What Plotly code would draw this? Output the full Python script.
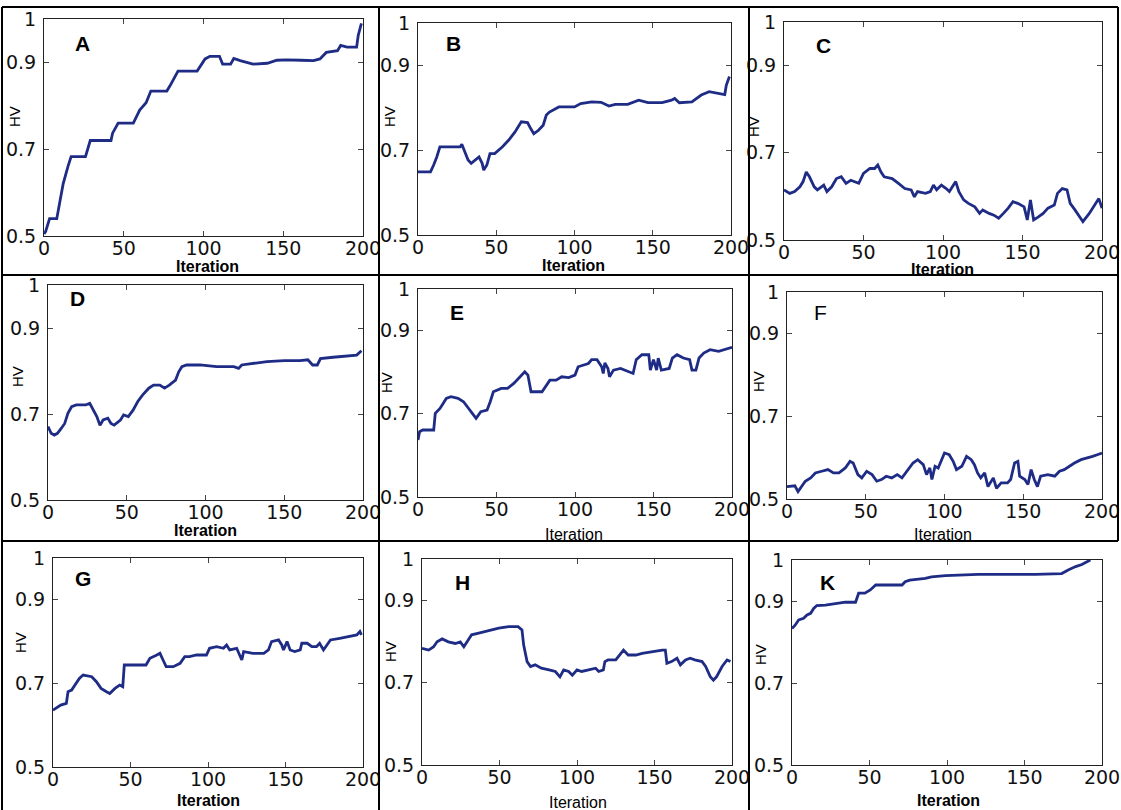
import plotly.graph_objects as go

# ---------------- data ----------------
A_iter = [0, 1, 3.5, 8, 10, 12, 15, 17, 26, 29, 42, 43, 46.5, 56, 60, 64, 67, 77, 79, 81,
          84, 96, 98, 101, 104, 110, 112, 117, 119, 123, 131, 140, 146, 152, 161, 169, 173, 177, 184, 186,
          190, 196, 197, 199]
A_hv = [0.505, 0.51, 0.54, 0.54, 0.58, 0.62, 0.66, 0.683, 0.683, 0.72, 0.72, 0.737, 0.76, 0.76, 0.79, 0.807, 0.834, 0.834, 0.846, 0.86,
        0.88, 0.88, 0.892, 0.908, 0.914, 0.914, 0.896, 0.896, 0.909, 0.904, 0.896, 0.898, 0.905, 0.906, 0.905, 0.904, 0.908, 0.923, 0.927, 0.939,
        0.935, 0.935, 0.962, 0.99]

B_iter = [0, 8, 10, 12, 14, 27, 28, 30, 32, 34, 39, 41, 42, 44, 46, 49, 54, 58, 62, 66,
          70, 72, 74, 77, 80, 82, 84, 90, 100, 104, 111, 117, 122, 126, 134, 141, 147, 156, 162, 164,
          167, 175, 181, 186, 194, 196, 197, 199]
B_hv = [0.649, 0.649, 0.665, 0.684, 0.708, 0.708, 0.714, 0.696, 0.677, 0.669, 0.684, 0.669, 0.653, 0.665, 0.692, 0.692, 0.708, 0.724, 0.743, 0.767,
        0.765, 0.751, 0.739, 0.747, 0.759, 0.783, 0.790, 0.802, 0.802, 0.810, 0.814, 0.813, 0.804, 0.808, 0.808, 0.818, 0.812, 0.812, 0.818, 0.822,
        0.812, 0.814, 0.830, 0.838, 0.831, 0.831, 0.853, 0.874]

C_iter = [0, 3.6, 6.7, 10, 12, 14, 16, 19, 21, 25, 27, 30, 33, 36, 39, 42, 47, 50, 54, 57,
          59, 61, 63, 68, 72, 76, 80, 82, 84, 89, 92, 94, 96, 99, 102, 104, 108, 110, 113, 116,
          120, 123, 125, 129, 132, 135, 138, 141, 144, 147, 151, 153, 155, 157, 160, 163, 166, 170, 172, 175,
          178, 180, 183, 186, 188, 192, 196, 198, 200]
C_hv = [0.615, 0.607, 0.611, 0.622, 0.634, 0.656, 0.645, 0.622, 0.615, 0.626, 0.611, 0.622, 0.641, 0.645, 0.630, 0.637, 0.630, 0.653, 0.664, 0.664,
        0.672, 0.656, 0.645, 0.641, 0.630, 0.618, 0.615, 0.599, 0.611, 0.607, 0.611, 0.626, 0.615, 0.626, 0.618, 0.611, 0.634, 0.611, 0.592, 0.584,
        0.576, 0.561, 0.569, 0.561, 0.557, 0.550, 0.561, 0.573, 0.588, 0.584, 0.576, 0.546, 0.592, 0.546, 0.553, 0.561, 0.573, 0.580, 0.607, 0.618,
        0.615, 0.584, 0.569, 0.553, 0.542, 0.561, 0.584, 0.595, 0.573]

D_iter = [0, 2, 4, 6, 8.5, 10.6, 12.7, 15, 18, 24, 26.5, 28.6, 31, 33, 35, 38, 40, 42, 46, 48,
          51, 54, 57, 60, 64, 67, 71, 74, 77, 81, 83, 85, 88, 96.5, 107, 118, 121, 123, 130, 139,
          150, 160, 165, 168, 171, 173, 181, 190, 196, 199]
D_hv = [0.671, 0.655, 0.651, 0.655, 0.667, 0.678, 0.702, 0.717, 0.721, 0.721, 0.725, 0.709, 0.694, 0.674, 0.686, 0.690, 0.678, 0.674, 0.686, 0.698,
        0.694, 0.709, 0.729, 0.744, 0.760, 0.767, 0.767, 0.760, 0.767, 0.779, 0.798, 0.810, 0.814, 0.814, 0.810, 0.810, 0.806, 0.814, 0.818, 0.822,
        0.824, 0.824, 0.826, 0.814, 0.814, 0.829, 0.832, 0.835, 0.837, 0.847]

E_iter = [0, 1, 3, 10, 11, 14, 16, 18, 21, 25.5, 29, 32, 35, 37, 40, 44, 46, 48, 53, 57,
          61, 63, 66, 68, 70, 72, 79, 82, 84, 88, 91.5, 96, 100, 102, 105, 108.5, 110.6, 114, 117, 118,
          119, 121, 122, 124.5, 129, 134, 137, 139, 142.6, 147, 148, 150, 152, 153, 155, 160, 162, 165, 169, 173,
          174.5, 177, 179, 182, 186, 191.5, 195, 198, 200]
E_hv = [0.637, 0.657, 0.661, 0.661, 0.701, 0.713, 0.725, 0.737, 0.741, 0.737, 0.729, 0.713, 0.697, 0.689, 0.705, 0.709, 0.729, 0.753, 0.761, 0.761,
        0.773, 0.781, 0.793, 0.801, 0.793, 0.753, 0.753, 0.769, 0.781, 0.781, 0.789, 0.787, 0.793, 0.813, 0.817, 0.821, 0.830, 0.830, 0.813, 0.797,
        0.822, 0.809, 0.789, 0.805, 0.809, 0.801, 0.797, 0.830, 0.842, 0.842, 0.805, 0.830, 0.805, 0.834, 0.805, 0.809, 0.834, 0.842, 0.834, 0.830,
        0.805, 0.805, 0.834, 0.846, 0.854, 0.850, 0.854, 0.858, 0.860]

F_iter = [0, 5, 7, 9.5, 11.6, 15, 18, 22, 26, 29.5, 33, 37, 40, 42, 45, 47.5, 50.6, 54, 57, 60,
          63, 66.5, 70, 73, 77, 80, 83, 86.5, 88.6, 90.7, 92, 94, 96, 98, 100, 103, 105.5, 107.6, 111, 114,
          117, 119, 121, 123, 125.5, 127.6, 131, 133, 136, 140, 142, 144.5, 146.6, 147.7, 151, 153, 155, 157, 159, 161,
          165.6, 170, 173, 176, 179, 182.5, 186.7, 191, 194, 197, 200]
F_hv = [0.530, 0.532, 0.518, 0.530, 0.543, 0.551, 0.563, 0.567, 0.571, 0.563, 0.563, 0.575, 0.591, 0.587, 0.559, 0.551, 0.567, 0.559, 0.543, 0.547,
        0.555, 0.551, 0.559, 0.551, 0.571, 0.587, 0.595, 0.583, 0.559, 0.575, 0.547, 0.579, 0.575, 0.595, 0.611, 0.607, 0.591, 0.571, 0.579, 0.603,
        0.595, 0.583, 0.563, 0.551, 0.563, 0.530, 0.551, 0.526, 0.539, 0.539, 0.547, 0.587, 0.591, 0.555, 0.547, 0.535, 0.571, 0.547, 0.530, 0.555,
        0.559, 0.555, 0.567, 0.571, 0.579, 0.587, 0.595, 0.599, 0.603, 0.607, 0.611]

G_iter = [0, 2, 5, 8.6, 9.7, 12, 14, 17, 19.4, 25, 28, 31, 34.5, 36.6, 40, 43, 45, 46, 60, 62.5,
          67, 69, 71, 73, 77.6, 82, 85, 88, 92.7, 99, 101, 105.6, 110, 112, 114, 118.5, 121.8, 123, 129, 136,
          139, 141, 145.5, 147.6, 148.7, 151, 153, 156, 159.5, 160.5, 164, 167, 170, 172, 174.5, 176.7, 179, 185, 192, 196,
          198, 199]
G_hv = [0.636, 0.640, 0.648, 0.652, 0.680, 0.684, 0.696, 0.712, 0.720, 0.716, 0.704, 0.688, 0.680, 0.676, 0.688, 0.696, 0.692, 0.744, 0.744, 0.760,
        0.768, 0.772, 0.756, 0.740, 0.740, 0.748, 0.764, 0.764, 0.768, 0.768, 0.784, 0.788, 0.784, 0.792, 0.780, 0.784, 0.756, 0.776, 0.772, 0.772,
        0.780, 0.800, 0.804, 0.792, 0.780, 0.800, 0.780, 0.776, 0.780, 0.796, 0.796, 0.788, 0.788, 0.796, 0.780, 0.792, 0.804, 0.808, 0.812, 0.816,
        0.824, 0.816]

H_iter = [0, 4.3, 7.5, 9.7, 13, 17, 21.5, 24.7, 27, 29, 32, 36.6, 41, 44, 49.5, 56, 62, 64.5, 65.6, 67.8,
          70, 73, 77, 82, 86, 89, 91.4, 94.6, 97, 100, 103, 107.5, 112, 114, 117, 118, 120, 125, 128, 130,
          133, 138, 142, 148, 155, 157, 158, 161, 164.5, 166.7, 170, 173, 176, 180.7, 183, 186, 188, 190, 193.6, 196.8,
          199]
H_hv = [0.783, 0.779, 0.787, 0.799, 0.806, 0.799, 0.795, 0.799, 0.787, 0.799, 0.816, 0.820, 0.824, 0.828, 0.832, 0.836, 0.836, 0.828, 0.791, 0.751,
        0.739, 0.743, 0.735, 0.731, 0.727, 0.714, 0.731, 0.727, 0.718, 0.731, 0.727, 0.731, 0.735, 0.727, 0.731, 0.751, 0.755, 0.755, 0.771, 0.779,
        0.767, 0.767, 0.771, 0.775, 0.779, 0.779, 0.747, 0.751, 0.759, 0.743, 0.755, 0.759, 0.755, 0.751, 0.739, 0.714, 0.706, 0.714, 0.739, 0.755,
        0.751]

K_iter = [0, 2, 4.3, 7.5, 9.7, 12, 14, 16, 21.5, 28, 34.4, 41, 43, 47, 50.5, 54, 71, 73, 76, 86,
          90, 99, 110, 120, 157, 174, 178.5, 183, 187, 190, 192.5]
K_hv = [0.833, 0.841, 0.854, 0.858, 0.866, 0.870, 0.882, 0.889, 0.890, 0.894, 0.897, 0.897, 0.919, 0.919, 0.927, 0.939, 0.939, 0.947, 0.951, 0.955,
        0.959, 0.962, 0.963, 0.965, 0.965, 0.967, 0.976, 0.984, 0.989, 0.996, 1.0]

panel_letters = ["A", "B", "C", "D", "E", "F", "G", "H", "K"]
x_ticks = [0, 50, 100, 150, 200]
y_ticks = [0.5, 0.7, 0.9, 1]
y_ticktext = ["0.5", "0.7", "0.9", "1"]
x_title = "Iteration"
y_title = "HV"

series = [(A_iter, A_hv), (B_iter, B_hv), (C_iter, C_hv),
          (D_iter, D_hv), (E_iter, E_hv), (F_iter, F_hv),
          (G_iter, G_hv), (H_iter, H_hv), (K_iter, K_hv)]

# ---------------- layout (pixel geometry) ----------------
W, H = 1121, 810
# plot-area boxes: left, right, top, bottom (px)
boxes = [(44, 363, 19, 236), (418, 731, 23, 235), (784, 1102, 22, 240),
         (48, 363, 285, 500), (418, 732, 289, 497), (787, 1102, 292, 499),
         (53, 363, 558, 767), (422, 732, 559, 765), (792, 1102, 560, 765)]
letter_pos = [(82, 43), (453, 43), (823, 45), (78, 298), (457, 312), (820, 312),
              (83, 578), (462, 582), (827, 582)]
letter_bold = [True, True, True, True, True, False, True, True, True]
hv_pos = [(15, 117), (390, 117), (754, 127), (17, 377), (387, 383), (758, 382),
          (20, 643), (390, 652), (760, 655)]
it_pos = [(207, 266), (573, 265), (942, 270), (205, 530), (574, 534), (943, 534),
          (208, 800), (578, 802), (948, 800)]
it_bold = [True, True, True, True, False, False, True, False, True]

LINE_COLOR = "#1f2c86"
TICK_FONT = dict(family="DejaVu Sans", size=19, color="#111111")


def px(x):
    return x / W


def py(y):
    return 1 - y / H


fig = go.Figure()
layout = dict(width=W, height=H, margin=dict(l=0, r=0, t=0, b=0, autoexpand=False),
              paper_bgcolor="white", plot_bgcolor="white", showlegend=False)
annotations = []

for i, ((xs, ys), (l, r, t, b)) in enumerate(zip(series, boxes)):
    n = "" if i == 0 else str(i + 1)
    fig.add_trace(go.Scatter(x=xs, y=ys, mode="lines",
                             line=dict(color=LINE_COLOR, width=2.8),
                             xaxis="x" + n, yaxis="y" + n, hoverinfo="skip"))
    layout["xaxis" + n] = dict(domain=[px(l), px(r)], range=[0, 200], anchor="y" + n,
                               tickvals=x_ticks, ticks="inside", ticklen=5, tickcolor="#444",
                               showline=True, linecolor="#222", linewidth=1, mirror="ticks",
                               showgrid=False, zeroline=False, tickfont=TICK_FONT,
                               ticklabelstandoff=-5, ticklabeloverflow="allow",
                               automargin=False)
    layout["yaxis" + n] = dict(domain=[py(b), py(t)], range=[0.5, 1], anchor="x" + n,
                               tickvals=y_ticks, ticktext=y_ticktext, ticks="inside", ticklen=5,
                               tickcolor="#444", showline=True, linecolor="#222", linewidth=1,
                               mirror="ticks", showgrid=False, zeroline=False, tickfont=TICK_FONT,
                               ticklabelstandoff=3, ticklabeloverflow="allow", automargin=False)
    lx, ly = letter_pos[i]
    lt = panel_letters[i]
    annotations.append(dict(x=px(lx), y=py(ly), xref="paper", yref="paper", showarrow=False,
                            text=f"<b>{lt}</b>" if letter_bold[i] else lt,
                            font=dict(family="Liberation Sans", size=21, color="black"),
                            xanchor="center", yanchor="middle"))
    hx, hy = hv_pos[i]
    annotations.append(dict(x=px(hx), y=py(hy), xref="paper", yref="paper", showarrow=False,
                            text=y_title, textangle=-90,
                            font=dict(family="Liberation Sans", size=15, color="black"),
                            xanchor="center", yanchor="middle"))
    ix, iy = it_pos[i]
    annotations.append(dict(x=px(ix), y=py(iy), xref="paper", yref="paper", showarrow=False,
                            text=f"<b>{x_title}</b>" if it_bold[i] else x_title,
                            font=dict(family="Liberation Sans", size=16, color="black"),
                            xanchor="center", yanchor="middle"))

layout["annotations"] = annotations

# outer panel frames
frame_lines = [((2, 7), (1118, 7)), ((2, 275), (1118, 275)), ((2, 541), (1118, 541)),
               ((2, 7), (2, 810)), ((379, 7), (379, 810)), ((749, 7), (749, 810)),
               ((1118, 7), (1118, 541))]
layout["shapes"] = [dict(type="line", xref="paper", yref="paper",
                         x0=px(a[0]), y0=py(a[1]), x1=px(c[0]), y1=py(c[1]),
                         line=dict(color="black", width=2)) for a, c in frame_lines]

fig.update_layout(**layout)
fig.write_html("out.html", config={"displayModeBar": False},
               post_script="document.body.style.margin='0';document.body.style.overflow='hidden';")
